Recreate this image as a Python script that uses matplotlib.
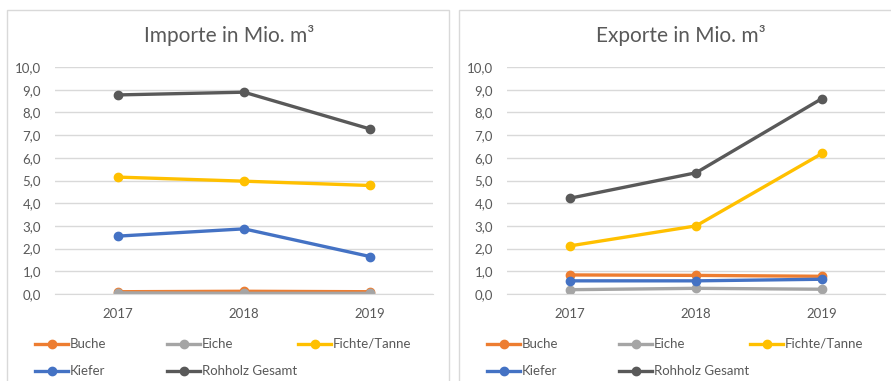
import matplotlib.pyplot as plt
from matplotlib.lines import Line2D
from matplotlib.patches import Rectangle
from matplotlib.ticker import FuncFormatter

years = ["2017", "2018", "2019"]
series = ["Buche", "Eiche", "Fichte/Tanne", "Kiefer", "Rohholz Gesamt"]
colors = ["#ED7D31", "#A5A5A5", "#FFC000", "#4472C4", "#595959"]

imp_buche = [0.10, 0.12, 0.10]
imp_eiche = [0.05, 0.03, 0.03]
imp_fichte = [5.15, 4.97, 4.78]
imp_kiefer = [2.55, 2.87, 1.65]
imp_gesamt = [8.77, 8.89, 7.27]

exp_buche = [0.84, 0.82, 0.78]
exp_eiche = [0.19, 0.25, 0.21]
exp_fichte = [2.12, 3.00, 6.19]
exp_kiefer = [0.58, 0.58, 0.65]
exp_gesamt = [4.22, 5.34, 8.61]

plt.rcParams['font.family'] = ['Lato', 'DejaVu Sans']
W, H = 891, 381
fig = plt.figure(figsize=(W / 100, H / 100), dpi=100)
txt = "#595959"


def px(x, y):
    return x / W, 1 - y / H


def chart(x0, title, data):
    # frame of the chart box
    fig.add_artist(Rectangle(px(x0 - 48, 395), 442 / W, 385 / H, transform=fig.transFigure,
                             fill=False, edgecolor="#D9D9D9", lw=1))
    l, b = px(x0, 294)
    ax = fig.add_axes([l, b, 378 / W, 227 / H])
    for vals, name, c in zip(data, series, colors):
        ax.plot(range(3), vals, color=c, lw=2.4, marker="o", ms=6, label=name,
                solid_capstyle="round")
    ax.set_xlim(-0.5, 2.5)
    ax.set_ylim(0, 10)
    ax.set_yticks(range(11))
    ax.yaxis.set_major_formatter(FuncFormatter(lambda v, p: f"{v:.1f}".replace(".", ",")))
    ax.set_xticks(range(3))
    ax.set_xticklabels(years)
    ax.grid(axis="y", color="#D9D9D9", lw=1)
    ax.set_axisbelow(True)
    for s in ["top", "right", "left"]:
        ax.spines[s].set_visible(False)
    ax.spines["bottom"].set_color("#D9D9D9")
    ax.tick_params(length=0, colors=txt, labelsize=9.5)
    ax.tick_params(axis="y", pad=10)
    ax.tick_params(axis="x", pad=10)
    fig.text(*px(x0 + 174, 36), title, ha="center", va="center", fontsize=15, color=txt)
    # legend, equal column widths
    pos = [(0, 0), (132, 0), (263, 0), (0, 27), (132, 27)]
    for (dx, dy), name, c in zip(pos, series, colors):
        xs, ys = x0 - 20 + dx, 344 + dy
        fig.add_artist(Line2D([xs / W, (xs + 33) / W], [1 - ys / H] * 2, transform=fig.transFigure,
                              color=c, lw=2.4))
        fig.add_artist(Line2D([(xs + 16.5) / W], [1 - ys / H], transform=fig.transFigure,
                              color=c, marker="o", ms=6))
        fig.text((xs + 35) / W, 1 - ys / H, name, ha="left", va="center", fontsize=9.5, color=txt)
    return ax


chart(55, "Importe in Mio. m³", [imp_buche, imp_eiche, imp_fichte, imp_kiefer, imp_gesamt])
chart(507, "Exporte in Mio. m³", [exp_buche, exp_eiche, exp_fichte, exp_kiefer, exp_gesamt])

fig.savefig("out.png", dpi=100)
